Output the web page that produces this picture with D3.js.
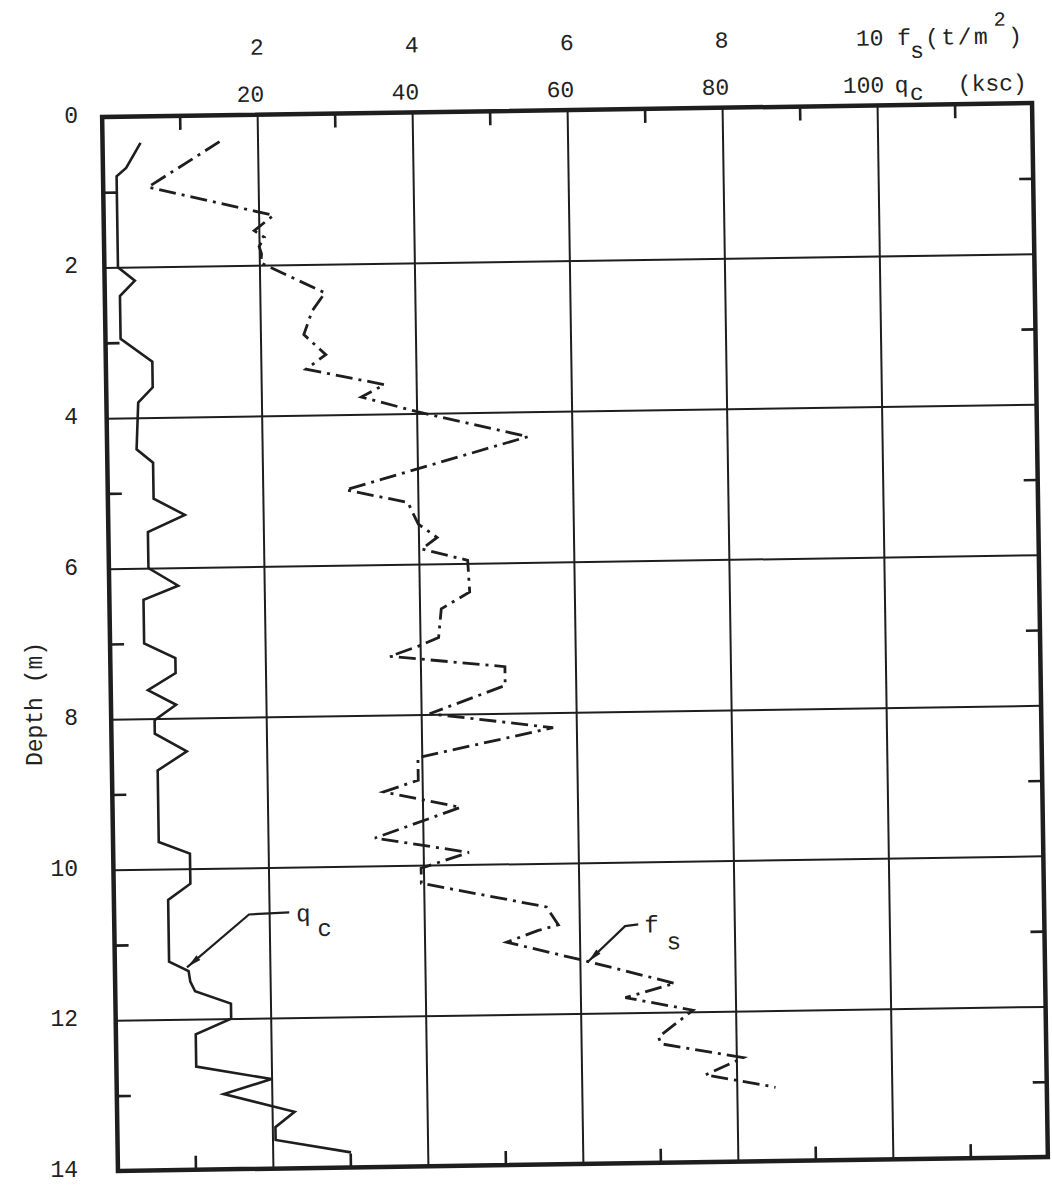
<!DOCTYPE html>
<html><head><meta charset="utf-8">
<script src="https://cdn.jsdelivr.net/npm/d3@7"></script>
<style>
html,body{margin:0;padding:0;background:#fff;}
svg{display:block;}
text{font-family:"Liberation Mono","DejaVu Sans Mono",monospace;fill:#222;}
</style></head><body>
<svg id="chart" width="1052" height="1185"></svg>
<script>
// ---------- data ----------
const fsTicks = [2, 4, 6, 8, 10];               // fs (t/m2) labels / grid
const qcTicks = [20, 40, 60, 80, 100];          // qc (ksc) labels
const depthTicks = [0, 2, 4, 6, 8, 10, 12, 14]; // depth labels
const depthGrid = [2, 4, 6, 8, 10, 12];
const minorX = [1, 3, 5, 7, 9, 11];
const minorDepth = [1, 3, 5, 7, 9, 11, 13];

// cone resistance qc (ksc) vs depth (m)
const qcDepth = [0.35,0.68,0.79,2.0,2.18,2.38,2.95,3.26,3.6,3.8,
                 4.42,4.6,5.08,5.3,5.52,6.0,6.24,6.42,7.0,7.2,
                 7.4,7.62,7.82,8.02,8.2,8.44,8.69,9.64,9.8,10.2,
                 10.41,11.23,11.36,11.5,11.63,11.8,12.0,12.2,12.63,12.81,
                 13.0,13.25,13.45,13.62,13.8];
const qcValue = [4.9,3.0,1.75,1.75,3.9,1.95,1.95,6.0,6.0,4.1,
                 3.8,5.9,5.9,9.9,5.1,5.1,8.9,4.4,4.4,8.4,
                 8.4,4.8,8.4,5.6,5.6,9.7,5.9,5.9,9.9,9.9,
                 7.0,7.0,9.5,9.7,10.3,14.9,14.9,10.3,10.3,20.0,
                 13.8,22.9,20.4,20.4,30.1];

// sleeve friction fs (t/m2) vs depth (m)
const fsDepth = [0.35,0.94,1.34,1.54,1.63,1.75,1.85,1.97,2.38,2.62,
                 2.93,3.2,3.39,3.61,3.77,3.98,4.33,5.0,5.18,5.47,
                 5.65,5.8,5.96,6.38,6.6,6.98,7.09,7.22,7.38,7.63,
                 7.99,8.2,8.57,8.87,9.02,9.24,9.63,9.84,10.04,10.24,
                 10.58,10.82,10.89,11.04,11.29,11.62,11.8,11.98,12.33,12.42,
                 12.62,12.84,13.02];
const fsValue = [1.51,0.58,2.19,1.94,2.07,2.0,2.03,2.02,2.84,2.67,
                 2.56,2.84,2.58,3.59,3.29,4.02,5.43,3.07,3.87,4.0,
                 4.24,4.04,4.63,4.65,4.28,4.24,3.98,3.61,5.09,5.09,
                 4.11,5.7,3.95,3.95,3.5,4.49,3.38,4.59,3.97,3.97,
                 5.58,5.73,5.47,5.06,6.02,7.22,6.58,7.45,7.0,7.03,
                 8.09,7.6,8.5];

// annotation leaders (value, depth)
const qcNote = [[9.3, 11.31], [17.4, 10.62], [22.6, 10.60]];
const qcNoteLabel = [23.5, 10.72];
const fsNote = [[6.10, 11.32], [6.59, 10.85], [6.76, 10.83]];
const fsNoteLabel = [6.84, 10.94];

// ---------- layout ----------
const L = 110, R = 1040, T = 110, B = 1164;
const ink = "#1e1e1e";
const x = d3.scaleLinear().domain([0, 12]).range([L, R]);    // fs
const xq = d3.scaleLinear().domain([0, 120]).range([L, R]);  // qc
const y = d3.scaleLinear().domain([0, 14]).range([T, B]);

const svg = d3.select("#chart");
svg.append("rect").attr("width", 1052).attr("height", 1185).attr("fill", "#fff");

// depth labels & title (not tilted)
const ya = svg.append("g").attr("transform", "translate(78,5)")
  .call(d3.axisLeft(y).tickValues(depthTicks).tickSize(0).tickPadding(0));
ya.select(".domain").remove();
ya.selectAll("text").style("font-family", '"Liberation Mono",monospace')
  .attr("font-size", 23).attr("fill", "#2a2a2a");

svg.append("text").attr("transform", "translate(42,704) rotate(-90)")
  .attr("text-anchor", "middle").attr("font-size", 23).attr("fill", "#2a2a2a")
  .text("Depth (m)");

// plot group, slightly tilted like the scanned original
const g = svg.append("g").attr("transform", "rotate(-0.86,575,637)");

// grid lines
const gx = g.append("g").attr("transform", `translate(0,${B})`)
  .call(d3.axisBottom(x).tickValues(fsTicks).tickSize(-(B - T)).tickFormat(""));
gx.select(".domain").remove();
gx.selectAll("line").attr("stroke", ink).attr("stroke-width", 2);

const gy = g.append("g").attr("transform", `translate(${L},0)`)
  .call(d3.axisLeft(y).tickValues(depthGrid).tickSize(-(R - L)).tickFormat(""));
gy.select(".domain").remove();
gy.selectAll("line").attr("stroke", ink).attr("stroke-width", 2);

// minor inner ticks on all four sides
function minor(axis, tr) {
  const a = g.append("g").attr("transform", tr).call(axis.tickSize(-14).tickFormat(""));
  a.select(".domain").remove();
  a.selectAll("line").attr("stroke", ink).attr("stroke-width", 2.6);
}
minor(d3.axisTop(x).tickValues(minorX), `translate(0,${T})`);
minor(d3.axisBottom(x).tickValues(minorX), `translate(0,${B})`);
minor(d3.axisLeft(y).tickValues(minorDepth), `translate(${L},0)`);
minor(d3.axisRight(y).tickValues(minorDepth), `translate(${R},0)`);

// frame
g.append("rect").attr("x", L).attr("y", T).attr("width", R - L).attr("height", B - T)
  .attr("fill", "none").attr("stroke", ink).attr("stroke-width", 4.5);

// top tick labels
function topLabels(scale, vals, base, dx) {
  const a = g.append("g").attr("transform", `translate(0,${base})`)
    .call(d3.axisTop(scale).tickValues(vals).tickSize(0).tickPadding(0));
  a.select(".domain").remove();
  a.selectAll("text").style("font-family", '"Liberation Mono",monospace')
    .attr("font-size", 23).attr("fill", "#222").attr("text-anchor", "end").attr("dx", dx);
}
topLabels(x, fsTicks, 50, 7);
topLabels(xq, qcTicks, 97, 7);

// unit labels
function txt(px, py, s, size, extra) {
  const t = g.append("text").attr("x", px).attr("y", py).attr("font-size", size || 23).text(s);
  if (extra) extra(t);
  return t;
}
txt(906, 50, "f");
txt(919, 63, "s");
txt(934, 50, "(t/m", 23, t => t.attr("letter-spacing", 2.5));
txt(1003, 32, "2", 20);
txt(1017, 50, ")");
txt(903, 97, "q");
txt(918, 105, "c");
txt(966, 97, "(ksc)");

// curves
const qcPts = qcDepth.map((d, i) => [xq(qcValue[i]), y(d)]);
const fsPts = fsDepth.map((d, i) => [x(fsValue[i]), y(d)]);
g.append("path").attr("d", d3.line()(qcPts)).attr("fill", "none")
  .attr("stroke", ink).attr("stroke-width", 2.6).attr("stroke-linejoin", "miter");
g.append("path").attr("d", d3.line()(fsPts)).attr("fill", "none")
  .attr("stroke", ink).attr("stroke-width", 2.8).attr("stroke-dasharray", "17,6,3,6")
  .attr("stroke-linejoin", "miter");

// annotations
function note(pts, sx, lab, main, sub, subDx, subDy) {
  const p = pts.map(v => [sx(v[0]), y(v[1])]);
  g.append("path").attr("d", d3.line()(p)).attr("fill", "none")
    .attr("stroke", ink).attr("stroke-width", 2.2);
  const [x0, y0] = p[0], [x1, y1] = p[1];
  const len = Math.hypot(x1 - x0, y1 - y0), ux = (x1 - x0) / len, uy = (y1 - y0) / len;
  const nx = -uy, ny = ux, tip = [x0 + ux * 1, y0 + uy * 1], bx = x0 + ux * 15, by = y0 + uy * 15;
  g.append("path").attr("d", `M${tip[0]},${tip[1]}L${bx + nx * 3},${by + ny * 3}L${bx - nx * 3},${by - ny * 3}Z`)
    .attr("fill", ink);
  const lx = sx(lab[0]), ly = y(lab[1]);
  g.append("text").attr("x", lx).attr("y", ly).attr("font-size", 24).text(main);
  g.append("text").attr("x", lx + subDx).attr("y", ly + subDy).attr("font-size", 24).text(sub);
}
note(qcNote, xq, qcNoteLabel, "q", "c", 21, 15);
note(fsNote, x, fsNoteLabel, "f", "s", 22, 17);
</script>
</body></html>
